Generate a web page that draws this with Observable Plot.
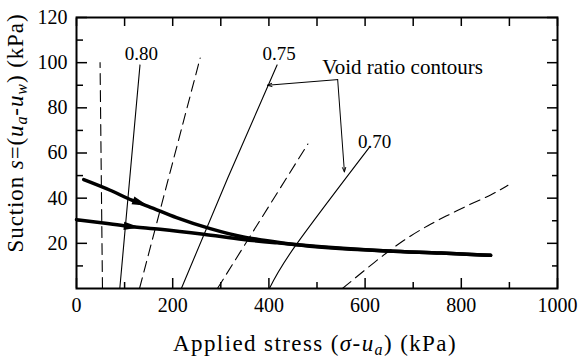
<!DOCTYPE html>
<html><head><meta charset="utf-8">
<script src="https://cdn.jsdelivr.net/npm/d3@7"></script>
<script src="https://cdn.jsdelivr.net/npm/@observablehq/plot@0.6"></script>
<style>
body{margin:0;background:#fff}
svg, svg text{font-family:"Liberation Serif","Times New Roman",serif}
</style>
</head><body><div id="chart"></div>
<script>
// ---- data (x: applied stress kPa, y: suction kPa) ----
const dashedA    = [[54,0],[49,100]];
const contour080 = [[90,0],[132,99]];
const dashedB    = [[131,0],[257,102]];
const contour075 = [[218,0],[314,48.7],[417,99]];
const dashedC    = [[293,0],[481,64]];
const contour070 = [[401,0],[456,19.2],[608,62.3]];
const dashedD    = [[553,0],[599,8.1],[651,17],[696,23.6],[738,28.8],[779,33.2],[821,37.6],[862,41.3],[897,45.7]];
const pathUpper  = [[15,48.2],[70,43.5],[115,39.1],[149,36.4],[208,31.4],[278,26.5],[347,22.8],[389,21.4],[453,19.5],[647,16.6],[758,15.7],[861,14.7]];
const pathLower  = [[0,30.5],[56,29],[104,27.6],[174,26.2],[264,24],[347,21.7],[417,20.2],[453,19.5],[647,16.6],[758,15.7],[861,14.7]];
const arrowUpper = [[133,37.8]];
const arrowLower = [[115,27.4]];
const contourLabels = [{x:135,y:104,text:"0.80"},{x:421,y:104,text:"0.75"},{x:620,y:65,text:"0.70"}];
const noteText   = [{x:678,y:98,text:"Void ratio contours"}];
const noteArrows = [{x1:543,y1:92.5,x2:397,y2:90},{x1:543,y1:92.5,x2:557,y2:51.6}];
const xLabelTicks = [0,200,400,600,800,1000];
const xMinorTicks = [100,300,500,700,900];
const yLabelTicks = [20,40,60,80,100,120];
const yMinorTicks = [10,30,50,70,90,110];

const FONT = "'Liberation Serif', 'Times New Roman', serif";
const toXY = a => a.map(([x,y]) => ({x,y}));
const arrowSym = {draw(ctx, size){const L=Math.sqrt(size); ctx.moveTo(L*0.5,0); ctx.lineTo(-L*0.5,-L*0.26); ctx.lineTo(-L*0.5,L*0.26); ctx.closePath();}};
const blank = () => "";
const plain = d => String(d);

const thin = {x:"x", y:"y", stroke:"black", strokeWidth:1.1};
const dash = {...thin, strokeDasharray:"11,6"};
const tk = {tickFormat:blank, label:null, strokeWidth:1.5};

const chart = Plot.plot({
  width:579, height:357,
  marginLeft:76, marginRight:22, marginTop:17, marginBottom:69,
  x:{domain:[0,1000]}, y:{domain:[0,120]},
  style:{fontFamily:FONT, fontSize:"20px", color:"black", background:"white"},
  marks:[
    Plot.line(toXY(dashedA), dash),
    Plot.line(toXY(contour080), thin),
    Plot.line(toXY(dashedB), dash),
    Plot.line(toXY(contour075), thin),
    Plot.line(toXY(dashedC), dash),
    Plot.line(toXY(contour070), {...thin, curve:"natural"}),
    Plot.line(toXY(dashedD), {...dash, curve:"basis"}),
    Plot.line(toXY(pathUpper), {x:"x", y:"y", stroke:"black", strokeWidth:3.5, curve:"monotone-x"}),
    Plot.line(toXY(pathLower), {x:"x", y:"y", stroke:"black", strokeWidth:3.5, curve:"monotone-x"}),
    Plot.dot(toXY(arrowUpper), {x:"x", y:"y", symbol:arrowSym, r:9, fill:"black", rotate:20}),
    Plot.dot(toXY(arrowLower), {x:"x", y:"y", symbol:arrowSym, r:9, fill:"black", rotate:5}),
    Plot.text(contourLabels, {x:"x", y:"y", text:"text", fontSize:19, fill:"black", fontFamily:FONT}),
    Plot.text(noteText, {x:"x", y:"y", text:"text", fontSize:21, fill:"black", fontFamily:FONT}),
    Plot.arrow(noteArrows, {x1:"x1", y1:"y1", x2:"x2", y2:"y2", stroke:"black", strokeWidth:1, headLength:7, headAngle:40}),
    Plot.frame({stroke:"black", strokeWidth:2}),
    Plot.axisX({anchor:"bottom", ticks:xLabelTicks, tickSize:-10, ...tk}),
    Plot.axisX({anchor:"bottom", ticks:xMinorTicks, tickSize:-6, ...tk}),
    Plot.axisX({anchor:"top", ticks:xLabelTicks, tickSize:-8, ...tk}),
    Plot.axisX({anchor:"top", ticks:xMinorTicks, tickSize:-8, ...tk}),
    Plot.axisY({anchor:"left", ticks:yLabelTicks, tickSize:-11, ...tk}),
    Plot.axisY({anchor:"left", ticks:yMinorTicks, tickSize:-7, ...tk}),
    Plot.axisY({anchor:"right", ticks:yLabelTicks, tickSize:-11, ...tk}),
    Plot.axisY({anchor:"right", ticks:yMinorTicks, tickSize:-6, ...tk}),
    Plot.axisX({anchor:"bottom", ticks:xLabelTicks, tickSize:0, tickPadding:9, label:null, fontSize:20, fontFamily:FONT, tickFormat:plain}),
    Plot.axisY({anchor:"left", ticks:yLabelTicks, tickSize:0, tickPadding:9, label:null, fontSize:20, fontFamily:FONT, tickFormat:plain})
  ]
});
document.getElementById("chart").appendChild(chart);

// axis titles with italic symbols and subscripts
const svg = d3.select(chart);
const xt = svg.append("text").attr("x",315).attr("y",351).attr("text-anchor","middle")
  .attr("font-size",23).attr("letter-spacing",1.4).attr("fill","black").attr("font-family",FONT);
xt.append("tspan").text("Applied stress (");
xt.append("tspan").attr("font-style","italic").text("σ");
xt.append("tspan").text("-");
xt.append("tspan").attr("font-style","italic").text("u");
xt.append("tspan").attr("font-style","italic").attr("font-size",16).attr("dy",4).text("a");
xt.append("tspan").attr("dy",-4).text(") (kPa)");

const yt = svg.append("text").attr("transform","translate(23,133) rotate(-90)").attr("text-anchor","middle")
  .attr("font-size",23).attr("letter-spacing",0.9).attr("fill","black").attr("font-family",FONT);
yt.append("tspan").text("Suction ");
yt.append("tspan").attr("font-style","italic").text("s");
yt.append("tspan").text("=(");
yt.append("tspan").attr("font-style","italic").text("u");
yt.append("tspan").attr("font-style","italic").attr("font-size",16).attr("dy",4).text("a");
yt.append("tspan").attr("dy",-4).text("-");
yt.append("tspan").attr("font-style","italic").text("u");
yt.append("tspan").attr("font-style","italic").attr("font-size",16).attr("dy",4).text("w");
yt.append("tspan").attr("dy",-4).text(") (kPa)");
</script>
</body></html>
